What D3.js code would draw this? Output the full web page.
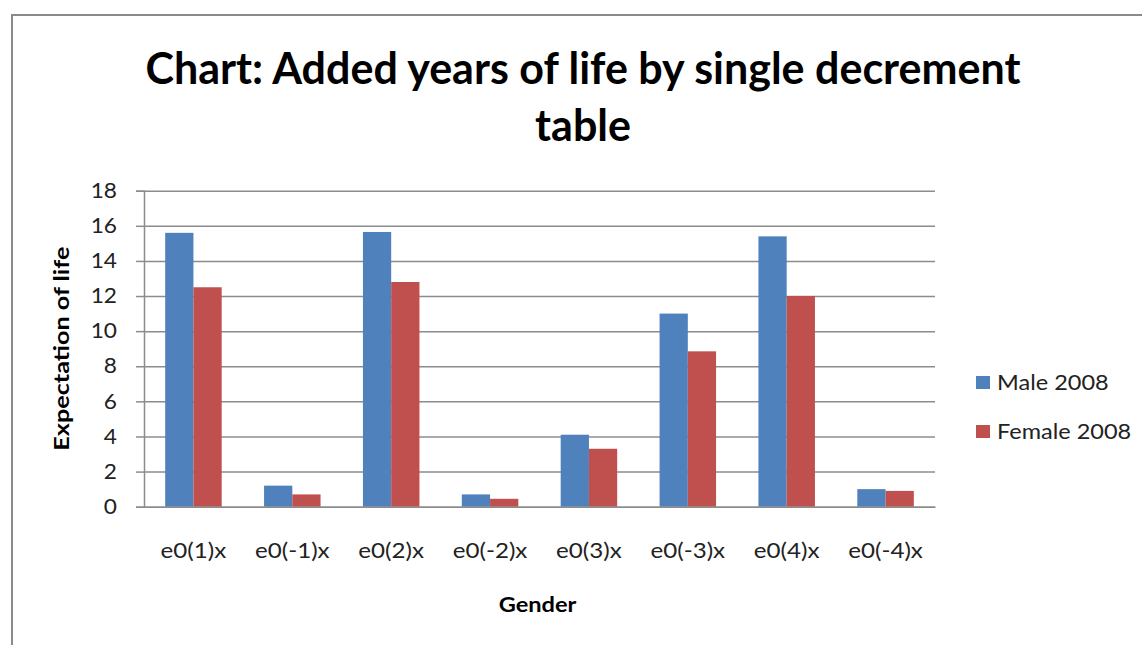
<!doctype html>
<html lang="en">
<head>
<meta charset="utf-8">
<script src="https://cdnjs.cloudflare.com/ajax/libs/d3/7.8.5/d3.min.js"></script>
<style>
  body { margin: 0; background: #fff; font-family: 'Lato', sans-serif; }
  .grid line { stroke: #8c8c8c; stroke-width: 1.5; }
  .grid path { display: none; }
  #y-axis text, #x-axis text { fill: #222; font-size: 21px; font-family: 'Lato'; }
  #y-axis line, #y-axis path, #x-axis path { stroke: #8c8c8c; stroke-width: 1.5; }
</style>
</head>
<body>
<script>
// chart data
const categories = ["e0(1)x", "e0(-1)x", "e0(2)x", "e0(-2)x", "e0(3)x", "e0(-3)x", "e0(4)x", "e0(-4)x"];
const seriesNames = ["Male 2008", "Female 2008"];
const male = [15.6, 1.2, 15.65, 0.7, 4.1, 11.0, 15.4, 1.0];
const female = [12.5, 0.7, 12.8, 0.45, 3.3, 8.85, 12.0, 0.9];
const yTicks = [0, 2, 4, 6, 8, 10, 12, 14, 16, 18];
const colors = ["#4F81BD", "#C0504D"];

const w = 1142, h = 645;
const plotLeft = 144, plotRight = 935, plotTop = 190.7, plotBottom = 506.7;

const svg = d3.select("body").append("svg")
  .attr("width", w).attr("height", h);

svg.append("rect").attr("width", w).attr("height", h).attr("fill", "#fff");

// outer chart frame (runs off the right/bottom edge)
svg.append("rect")
  .attr("x", 12).attr("y", 15)
  .attr("width", 1160).attr("height", 660)
  .attr("fill", "none").attr("stroke", "#8a8a8a").attr("stroke-width", 2);

// scales
const x = d3.scaleBand().domain(categories).range([plotLeft, plotRight]);
const x1 = d3.scaleBand().domain(seriesNames).range([0, x.bandwidth()]).paddingOuter(0.75);
const y = d3.scaleLinear().domain([0, 18]).range([plotBottom, plotTop]);

// gridlines
svg.append("g").attr("class", "grid")
  .attr("transform", "translate(" + plotLeft + ",0)")
  .call(d3.axisLeft(y).tickValues(yTicks).tickSize(-(plotRight - plotLeft)).tickFormat(""));

// y axis
svg.append("g").attr("id", "y-axis")
  .attr("transform", "translate(" + plotLeft + ",0)")
  .call(d3.axisLeft(y).tickValues(yTicks).tickSize(8).tickPadding(17))
  .selectAll("text").attr("transform", "scale(1.08,1)");

// bars
const rows = categories.map((c, i) => ({ cat: c, vals: [male[i], female[i]] }));
const groups = svg.selectAll(".cat").data(rows).enter().append("g")
  .attr("transform", d => "translate(" + x(d.cat) + ",0)");

groups.selectAll("rect")
  .data(d => d.vals.map((v, k) => ({ name: seriesNames[k], v: v, k: k })))
  .enter().append("rect")
  .attr("x", d => x1(d.name))
  .attr("width", x1.bandwidth())
  .attr("y", d => y(d.v))
  .attr("height", d => y(0) - y(d.v))
  .attr("fill", d => colors[d.k]);

// x axis
svg.append("g").attr("id", "x-axis")
  .attr("transform", "translate(0," + plotBottom + ")")
  .call(d3.axisBottom(x).tickSize(0).tickPadding(36))
  .selectAll("text").attr("transform", "scale(1.15,1)");

// title
const title = svg.append("text")
  .attr("text-anchor", "middle")
  .attr("font-family", "Lato").attr("font-weight", "bold")
  .attr("font-size", 43).attr("fill", "#000");
title.append("tspan").attr("x", 583).attr("y", 84).text("Chart: Added years of life by single decrement");
title.append("tspan").attr("x", 583).attr("y", 141).text("table");

// axis titles
svg.append("text")
  .attr("transform", "translate(69," + ((plotTop + plotBottom) / 2) + ") rotate(-90) scale(1.26,1)")
  .attr("text-anchor", "middle")
  .attr("font-family", "Lato").attr("font-weight", "bold").attr("font-size", 20)
  .text("Expectation of life");

svg.append("text")
  .attr("transform", "translate(" + ((plotLeft + plotRight) / 2 - 2) + ",612) scale(1.18,1)")
  .attr("text-anchor", "middle")
  .attr("font-family", "Lato").attr("font-weight", "bold").attr("font-size", 20)
  .text("Gender");

// legend
const legend = svg.append("g").attr("id", "legend");
seriesNames.forEach((s, i) => {
  legend.append("rect")
    .attr("x", 976).attr("y", 376 + i * 49)
    .attr("width", 14).attr("height", 13)
    .attr("fill", colors[i]);
  legend.append("text")
    .attr("transform", "translate(997," + (390 + i * 49) + ") scale(1.12,1)")
    .attr("font-family", "Lato").attr("font-size", 21).attr("fill", "#222")
    .text(s);
});
</script>
</body>
</html>
